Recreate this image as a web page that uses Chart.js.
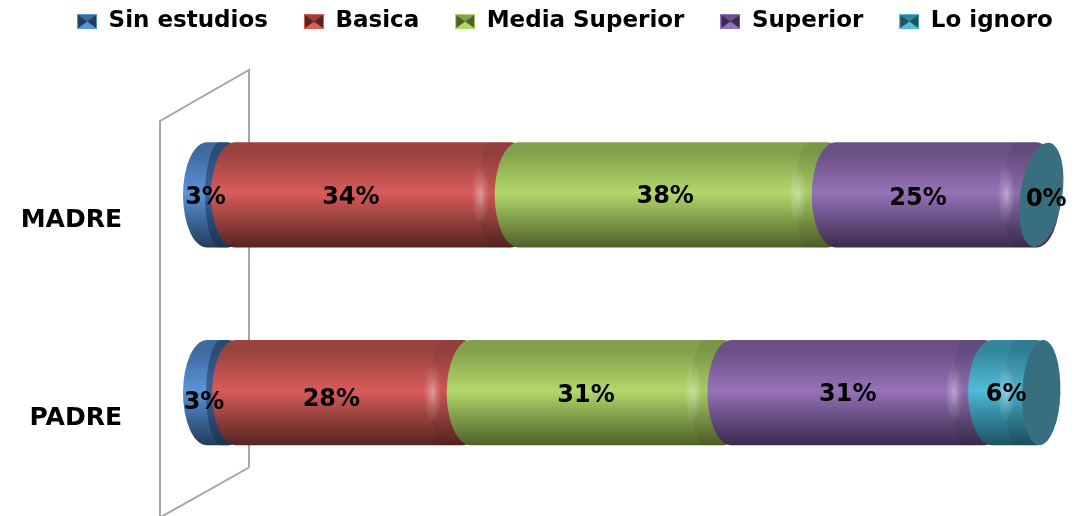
<!DOCTYPE html>
<html>
<head>
<meta charset="utf-8">
<title>Estudios de los padres</title>
<script src="https://cdn.jsdelivr.net/npm/chart.js@4"></script>
<style>
html, body { margin: 0; padding: 0; background: #fff; }
#wrap { width: 1082px; height: 516px; overflow: hidden; }
</style>
</head>
<body>
<div id="wrap"><canvas id="chart" width="1082" height="516"></canvas></div>
<script>
const categories = ['MADRE', 'PADRE'];
const seriesNames = ['Sin estudios', 'Basica', 'Media Superior', 'Superior', 'Lo ignoro'];
const sinEstudios = [3, 3.125];
const basica = [34, 28.125];
const mediaSuperior = [38, 31.25];
const superior = [25, 31.25];
const loIgnoro = [0, 6.25];

const midColors = ['#5b94d8', '#d95b5a', '#b3d76c', '#9672b8', '#52bcd9'];
const topColors = ['#3f6a9e', '#99433f', '#83a04c', '#6a5085', '#34869d'];
const lowColors = ['#223c5c', '#562321', '#4f6128', '#3b2b4e', '#1d5263'];
const capColor = '#376f80';
const wallColor = '#a6a6a6';

// small shifts so the percent labels sit where they do in the picture
const labelShiftX = [[7, -2, 12, 2, 26], [5, 2, 9, 10, 12]];
const labelShiftY = [[3, 3, 2, 4, 5], [10, 7, 3, 2, 2]];

const capRx = 24;
const bodyRun = 16;
let drawingSeries = 0;

function capsulePath(ctx, xs, xe, top, bottom) {
    const mid = (top + bottom) / 2;
    const ry = (bottom - top) / 2;
    ctx.beginPath();
    ctx.moveTo(xs + capRx, top);
    ctx.lineTo(xe + bodyRun, top);
    ctx.ellipse(xe + bodyRun, mid, capRx, ry, 0, -Math.PI / 2, Math.PI / 2);
    ctx.lineTo(xs + capRx, bottom);
    ctx.ellipse(xs + capRx, mid, capRx, ry, 0, Math.PI / 2, Math.PI * 1.5);
    ctx.closePath();
}

// bars are drawn as lying cylinders instead of flat rectangles
Chart.BarElement.prototype.draw = function (ctx) {
    const { x, y, base, height } = this.getProps(['x', 'y', 'base', 'height']);
    const i = drawingSeries;
    const isFirst = i === 0;
    const isLast = i === seriesNames.length - 1;
    const xs = isFirst ? base - 3 : base;
    const xe = x;
    const top = y - height / 2;
    const bottom = y + height / 2;
    const ry = height / 2;

    ctx.save();
    if (xe - base > 0.5) {
        const grad = ctx.createLinearGradient(0, top, 0, bottom);
        grad.addColorStop(0, topColors[i]);
        grad.addColorStop(0.1, topColors[i]);
        grad.addColorStop(0.48, midColors[i]);
        grad.addColorStop(0.72, topColors[i]);
        grad.addColorStop(1, lowColors[i]);
        capsulePath(ctx, xs, xe, top, bottom);
        ctx.fillStyle = grad;
        ctx.fill();

        // darker ring and glint near the far end of the segment
        ctx.save();
        capsulePath(ctx, xs, xe, top, bottom);
        ctx.clip();
        const ringX = isFirst ? xe - 6 : xe - 17;
        ctx.beginPath();
        ctx.ellipse(ringX + 16, y, 16, ry + 1, 0, Math.PI / 2, Math.PI * 1.5);
        ctx.lineTo(xe + 60, top - 1);
        ctx.lineTo(xe + 60, bottom + 1);
        ctx.closePath();
        ctx.fillStyle = isFirst ? 'rgba(20,40,70,0.45)' : 'rgba(0,0,0,0.06)';
        ctx.fill();
        if (!isFirst) {
            ctx.save();
            ctx.translate(ringX + 3, y);
            ctx.scale(0.3, 1);
            const glint = ctx.createRadialGradient(0, 0, 0, 0, 0, 30);
            glint.addColorStop(0, 'rgba(255,255,255,0.42)');
            glint.addColorStop(0.5, 'rgba(255,255,255,0.16)');
            glint.addColorStop(1, 'rgba(255,255,255,0)');
            ctx.fillStyle = glint;
            ctx.fillRect(-60, -ry, 120, height);
            ctx.restore();
        }
        ctx.restore();
    }

    if (isLast) {
        const flat = xe - base <= 0.5;
        ctx.beginPath();
        ctx.ellipse(xe + 21, y, flat ? 21 : 19, ry, flat ? 0.15 : 0.04, 0, Math.PI * 2);
        ctx.fillStyle = capColor;
        ctx.fill();
    }
    ctx.restore();
};

function drawPercentLabels(chart) {
    const { ctx } = chart;
    ctx.save();
    ctx.font = 'bold 24px "DejaVu Sans"';
    ctx.fillStyle = '#000';
    ctx.textAlign = 'center';
    ctx.textBaseline = 'middle';
    chart.data.datasets.forEach((ds, i) => {
        chart.getDatasetMeta(i).data.forEach((bar, j) => {
            const cx = (bar.x + bar.base) / 2 + labelShiftX[j][i];
            ctx.fillText(Math.round(ds.data[j]) + '%', cx, bar.y + labelShiftY[j][i]);
        });
    });
    ctx.restore();
}

const cylinderPlugin = {
    id: 'cylinders',
    afterLayout(chart) {
        // legend block sits higher and further right than the default layout puts it
        chart.legend.left += 8;
        chart.legend.right += 40;
        chart.legend.top = -26;
    },
    beforeDatasetsDraw(chart) {
        const { ctx, chartArea } = chart;
        // the slanted back wall of the 3D chart
        const leftX = chartArea.left - 26;
        const rightX = chartArea.left + 63;
        ctx.save();
        ctx.strokeStyle = wallColor;
        ctx.lineWidth = 2;
        ctx.beginPath();
        ctx.moveTo(rightX, chartArea.bottom - 24);
        ctx.lineTo(rightX, chartArea.top - 26);
        ctx.lineTo(leftX, chartArea.top + 25);
        ctx.lineTo(leftX, chartArea.bottom + 26);
        ctx.lineTo(rightX, chartArea.bottom - 24);
        ctx.stroke();
        ctx.restore();
        // first series first, so each segment overlaps the one before it
        chart.data.datasets.forEach((ds, i) => {
            drawingSeries = i;
            chart.getDatasetMeta(i).controller.draw();
        });
        // returning false skips afterDatasetsDraw too, so labels go here
        drawPercentLabels(chart);
        return false;
    }
};

function legendMarker(i) {
    const c = document.createElement('canvas');
    c.width = 20;
    c.height = 15;
    const g = c.getContext('2d');
    const tri = (pts, col) => {
        g.beginPath();
        g.moveTo(pts[0], pts[1]);
        g.lineTo(pts[2], pts[3]);
        g.lineTo(pts[4], pts[5]);
        g.closePath();
        g.fillStyle = col;
        g.fill();
    };
    g.fillStyle = midColors[i];
    g.fillRect(0, 0, 20, 15);
    tri([1, 1, 19, 1, 10, 7.5], topColors[i]);
    tri([1, 14, 19, 14, 10, 7.5], midColors[i]);
    tri([1, 1, 1, 14, 10, 7.5], lowColors[i]);
    tri([19, 1, 19, 14, 10, 7.5], lowColors[i]);
    return c;
}

const seriesValues = [sinEstudios, basica, mediaSuperior, superior, loIgnoro];

new Chart(document.getElementById('chart').getContext('2d'), {
    type: 'bar',
    data: {
        labels: categories,
        datasets: seriesNames.map((name, i) => ({
            label: name,
            data: seriesValues[i],
            backgroundColor: midColors[i],
            pointStyle: legendMarker(i),
            barPercentage: 0.533,
            categoryPercentage: 1
        }))
    },
    options: {
        indexAxis: 'y',
        responsive: false,
        animation: false,
        layout: { padding: { left: 0, right: 0, top: 27, bottom: 24.5 } },
        plugins: {
            tooltip: { enabled: false },
            legend: {
                position: 'top',
                labels: {
                    usePointStyle: true,
                    pointStyleWidth: 20,
                    boxWidth: 20,
                    padding: 36,
                    color: '#000',
                    font: { family: '"DejaVu Sans"', size: 23, weight: 'bold' }
                }
            }
        },
        scales: {
            // axis runs past 100 so that 100% lands where the end cap begins
            x: { stacked: true, display: false, min: 0, max: 107.4, grid: { display: false } },
            y: {
                stacked: true,
                grid: { display: false },
                border: { display: false },
                afterFit(scale) {
                    scale.width = 186;
                    // labelOffset would otherwise reserve space under the plot
                    scale.paddingTop = 0;
                    scale.paddingBottom = 0;
                },
                ticks: {
                    padding: 56,
                    labelOffset: 26,
                    color: '#000',
                    font: { family: '"DejaVu Sans"', size: 25, weight: 'bold' }
                }
            }
        }
    },
    plugins: [cylinderPlugin]
});
</script>
</body>
</html>
